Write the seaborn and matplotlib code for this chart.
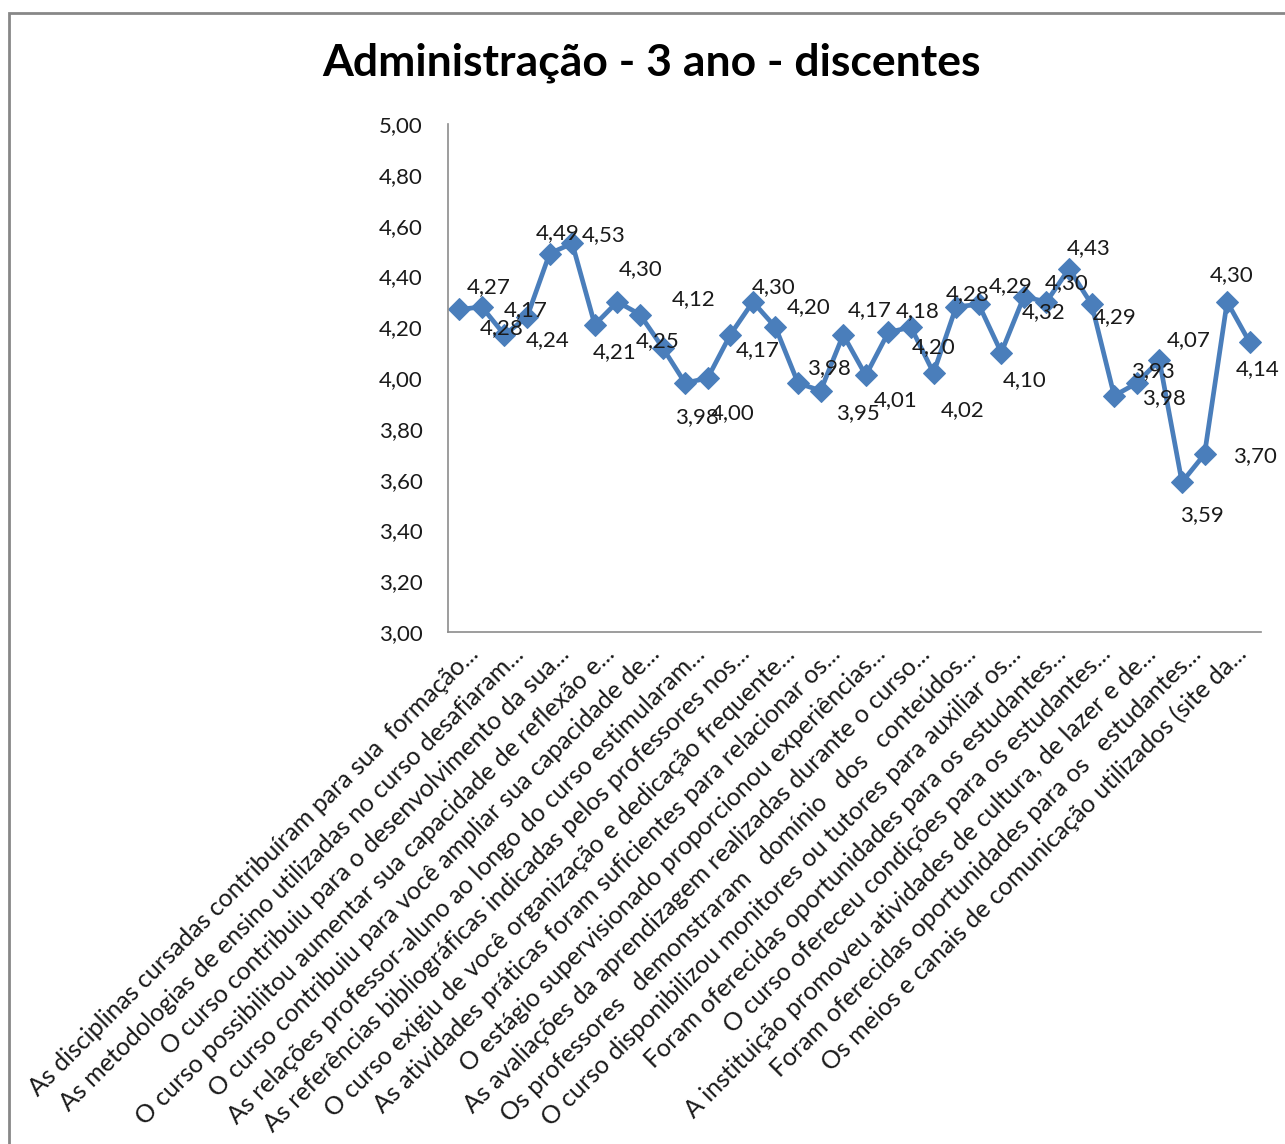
import numpy as np
import pandas as pd
import matplotlib
matplotlib.use("Agg")
import matplotlib.pyplot as plt
from matplotlib.patches import Rectangle
from matplotlib.transforms import ScaledTranslation
import seaborn as sns

# Average score per questionnaire item (36 items)
scores = [4.27, 4.28, 4.17, 4.24, 4.49, 4.53, 4.21, 4.30, 4.25, 4.12,
          3.98, 4.00, 4.17, 4.30, 4.20, 3.98, 3.95, 4.17, 4.01, 4.18,
          4.20, 4.02, 4.28, 4.29, 4.10, 4.32, 4.30, 4.43, 4.29, 3.93,
          3.98, 4.07, 3.59, 3.70, 4.30, 4.14]

# Category labels shown on the axis (every other item)
question_labels = [
    "As disciplinas cursadas contribuíram para sua  formação...",
    "As metodologias de ensino utilizadas no curso desafiaram...",
    "O curso contribuiu para o desenvolvimento da sua...",
    "O curso possibilitou aumentar sua capacidade de reflexão e...",
    "O curso contribuiu para você ampliar sua capacidade de...",
    "As relações professor-aluno ao longo do curso estimularam...",
    "As referências bibliográficas indicadas pelos professores nos...",
    "O curso exigiu de você organização e dedicação frequente...",
    "As atividades práticas foram suficientes para relacionar os...",
    "O estágio supervisionado proporcionou experiências...",
    "As avaliações da aprendizagem realizadas durante o curso...",
    "Os professores   demonstraram   domínio   dos   conteúdos...",
    "O curso disponibilizou monitores ou tutores para auxiliar os...",
    "Foram oferecidas oportunidades para os estudantes...",
    "O curso ofereceu condições para os estudantes...",
    "A instituição promoveu atividades de cultura, de lazer e de...",
    "Foram oferecidas oportunidades para os   estudantes...",
    "Os meios e canais de comunicação utilizados (site da...",
]

y_ticks = [3.00, 3.20, 3.40, 3.60, 3.80, 4.00, 4.20, 4.40, 4.60, 4.80, 5.00]
title = "Administração - 3 ano - discentes"

# Data-label placement (offsets in pixels from each marker)
label_offsets = [(29, -22), (20, 21), (21, -25), (21, 23), (8, -20), (31, -8),
                 (20, 27), (23, -33), (18, 27), (31, -48), (12, 34), (25, 35),
                 (27, 15), (21, -15), (33, -20), (31, -15), (37, 22), (26, -25),
                 (30, 25), (29, -21), (23, 20), (29, 37), (12, -13), (32, -18),
                 (23, 27), (20, 15), (20, -19), (20, -21), (23, 13), (39, -25),
                 (27, 15), (29, -20), (20, 33), (50, 2), (5, -27), (8, 27)]

def br(v):
    return f"{v:.2f}".replace(".", ",")

df = pd.DataFrame({"item": np.arange(len(scores)), "media": scores})

sns.set_theme(style="white")
plt.rcParams["font.family"] = ["Lato", "DejaVu Sans"]

W, H = 1285, 1144
fig = plt.figure(figsize=(W / 100, H / 100), dpi=100)
ax = fig.add_axes([448 / W, 1 - 632 / H, (1261 - 448) / W, (632 - 124) / H])

line_color = "#4A7EBB"
sns.lineplot(data=df, x="item", y="media", ax=ax, color=line_color,
             linewidth=3.4, marker="D", markersize=11,
             markeredgecolor=line_color, markerfacecolor=line_color)

for i, v in enumerate(scores):
    dx, dy = label_offsets[i]
    ax.annotate(br(v), (i, v), xytext=(dx * 0.72, -dy * 0.72),
                textcoords="offset points", ha="center", va="center",
                fontsize=16, color="#1a1a1a")

ax.set_xlim(-0.5, len(scores) - 0.5)
ax.set_ylim(3.0, 5.0)
ax.set_yticks(y_ticks)
ax.set_yticklabels([br(t) for t in y_ticks], fontsize=16, color="#1a1a1a")

tick_pos = list(range(0, len(scores), 2))
ax.set_xticks(tick_pos)
ax.set_xticklabels(question_labels, rotation=45, ha="right", va="baseline",
                   rotation_mode="anchor", fontsize=18, color="#1a1a1a")
ax.tick_params(axis="x", length=0, pad=17)
ax.tick_params(axis="y", length=0, pad=18)
shift = ScaledTranslation(21 / 100, 0, fig.dpi_scale_trans)
for lbl in ax.get_xticklabels():
    lbl.set_transform(lbl.get_transform() + shift)
ax.set_xlabel("")
ax.set_ylabel("")

for side in ("top", "right"):
    ax.spines[side].set_visible(False)
for side in ("left", "bottom"):
    ax.spines[side].set_color("#8c8c8c")
    ax.spines[side].set_linewidth(1.2)

fig.text(652 / W, 1 - 63 / H, title, ha="center", va="center",
         fontsize=32, fontweight="bold", color="#000000")

# Chart-area frame
fig.add_artist(Rectangle((9 / W, -0.05), 1.1, 1 - 13 / H + 0.05,
                         transform=fig.transFigure, fill=False,
                         edgecolor="#878787", linewidth=2))

fig.savefig("out.png", dpi=100, facecolor="white")
